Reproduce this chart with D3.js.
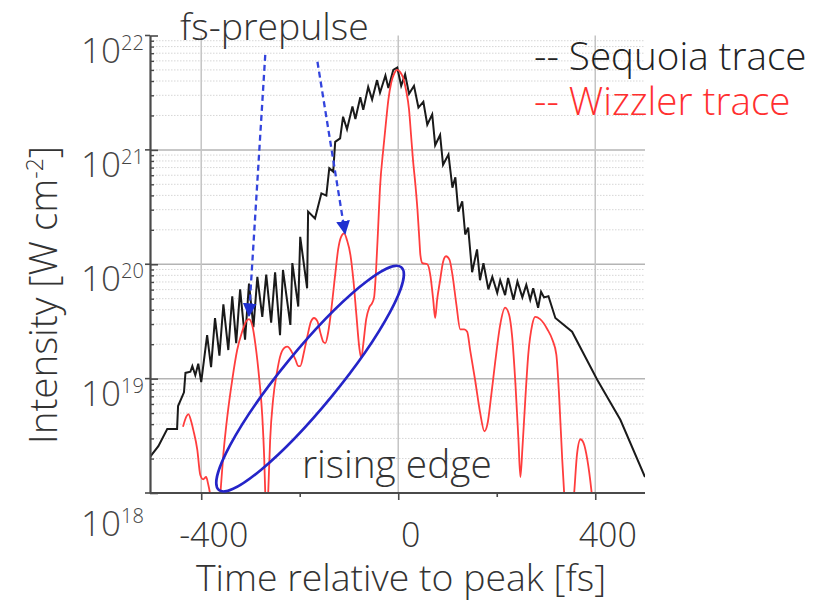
<!DOCTYPE html>
<html>
<head>
<meta charset="utf-8">
<script src="https://cdn.jsdelivr.net/npm/d3@7"></script>
<style>
  html, body { margin: 0; padding: 0; background: #fff; }
  svg { display: block; font-family: 'Open Sans', 'Noto Sans', sans-serif; font-weight: 300; }
</style>
</head>
<body>
<div class="viz"></div>
<script>
// Sequoia (black) trace: time [fs] and log10 of intensity [W cm^-2]
const sequoiaTime = [-505, -487, -469, -449, -447, -435, -432, -422, -418, -412, -406, -400,
  -388, -380, -372, -363, -355, -345, -337, -329, -321, -311, -303, -294, -286, -276, -268, -258,
  -250, -240, -234, -219, -215, -203, -199, -185, -183, -169, -156, -146, -140, -132, -128, -118,
  -112, -104, -93, -87, -77, -71, -61, -53, -43, -37, -26, -20, -10, -2, 6, 14, 22, 32, 41, 51,
  59, 69, 75, 85, 91, 102, 110, 116, 122, 130, 136, 142, 150, 160, 166, 173, 183, 191, 201, 207,
  217, 223, 234, 242, 252, 260, 268, 274, 284, 290, 296, 305, 319, 353, 404, 451, 501];
const sequoiaLogI = [18.31, 18.41, 18.56, 18.56, 18.76, 18.88, 19.05, 19.06, 19.11, 19.03, 19.13, 18.97,
  19.38, 19.10, 19.53, 19.20, 19.65, 19.25, 19.72, 19.31, 19.78, 19.34, 19.83, 19.45, 19.89, 19.54, 19.91, 19.49,
  19.93, 19.38, 19.95, 19.47, 20.01, 19.63, 20.24, 19.79, 20.46, 20.40, 20.62, 20.60, 20.84, 20.81, 21.07, 21.10,
  21.29, 21.18, 21.38, 21.27, 21.46, 21.35, 21.55, 21.44, 21.61, 21.50, 21.65, 21.54, 21.70, 21.72, 21.56, 21.66, 21.49, 21.56, 21.37, 21.42,
  21.22, 21.31, 21.04, 21.13, 20.87, 20.96, 20.67, 20.76, 20.46, 20.55, 20.26, 20.32, 19.93, 20.13, 19.86, 20.01, 19.78, 19.89, 19.75, 19.86,
  19.73, 19.88, 19.69, 19.85, 19.71, 19.82, 19.69, 19.79, 19.62, 19.76, 19.71, 19.72, 19.53, 19.41, 18.99, 18.64, 18.14];

// Wizzler (red) trace
const wizzlerTime = [-437, -430, -426, -420, -416, -408, -402, -396, -390, -386, -382, -372,
  -361, -355, -347, -337, -327, -317, -309, -303, -296, -290, -282, -276, -272, -270, -268, -264,
  -260, -254, -246, -240, -231, -225, -217, -209, -203, -199, -191, -185, -177, -171, -164, -158,
  -152, -148, -142, -136, -128, -122, -116, -110, -104, -97, -91, -85, -79, -75, -71, -65, -59,
  -53, -49, -45, -41, -37, -30, -24, -20, -14, -8, -2, 4, 10, 16, 22, 26, 30, 35, 39, 43, 45,
  49, 59, 65, 71, 75, 79, 85, 91, 97, 104, 110, 118, 126, 134, 140, 146, 156, 166, 175, 181,
  189, 197, 207, 217, 225, 231, 238, 244, 248, 252, 258, 264, 272, 278, 288, 303, 313, 321,
  327, 333, 337, 345, 357, 363, 370, 376, 384, 392, 396];
const wizzlerLogI = [18.58, 18.67, 18.69, 18.62, 18.55, 18.38, 18.16, 18.12, 18.14, 18.08, 17.99, 17.42,
  18.00, 18.34, 18.67, 18.99, 19.25, 19.41, 19.50, 19.52, 19.46, 19.30, 18.99, 18.67, 18.29, 18.00, 17.59, 18.00,
  18.47, 18.82, 19.06, 19.19, 19.27, 19.28, 19.24, 19.17, 19.11, 19.11, 19.24, 19.36, 19.50, 19.53, 19.50, 19.40,
  19.32, 19.31, 19.41, 19.60, 19.91, 20.13, 20.24, 20.27, 20.21, 20.08, 19.86, 19.56, 19.27, 19.18, 19.30, 19.52, 19.62,
  19.66, 19.71, 19.95, 20.30, 20.67, 21.02, 21.28, 21.44, 21.59, 21.67, 21.70, 21.68, 21.63, 21.52, 21.35, 21.13, 20.91, 20.69, 20.48, 20.21, 20.08,
  20.01, 20.00, 19.91, 19.69, 19.53, 19.69, 19.86, 20.02, 20.07, 20.04, 19.91, 19.65, 19.43, 19.43, 19.41, 19.25, 18.99, 18.71, 18.54, 18.60,
  18.86, 19.15, 19.47, 19.62, 19.56, 19.38, 18.95, 18.47, 18.14, 18.38, 18.82, 19.21, 19.47, 19.54, 19.52, 19.43, 19.34, 19.21,
  18.82, 18.29, 17.99, 17.59, 17.99, 18.34, 18.47, 18.44, 18.29, 18.03, 17.86];

const xTicks = [-400, 0, 400];
const xMinorTicks = [-200, 200];
const yDecades = [18, 19, 20, 21, 22];
const legendLabels = ['-- Sequoia trace', '-- Wizzler trace'];
const legendColors = ['#222', '#ff2f2f'];

// prepulse arrows: tail and head in [time, log10 intensity]
const arrowTails = [[-270, 21.83], [-164, 21.77]];
const arrowHeads = [[-303, 19.55], [-108, 20.27]];

const width = 828;
const height = 604;
const plot = { left: 150, right: 645, top: 35.5, bottom: 493 };

const svg = d3.select('.viz')
  .append('svg')
  .attr('width', width)
  .attr('height', height);

const x = d3.scaleLinear().domain([-505, 500]).range([149.5, 644.5]);
const y = d3.scaleLog().domain([1e18, 1e22]).range([plot.bottom, plot.top]);

// grid: faint dotted minor lines, then the decades and the main time lines
const minorValues = [];
yDecades.slice(0, -1).forEach(e => {
  for (let m = 2; m <= 9; m++) minorValues.push(m * 10 ** e);
});

svg.append('g')
  .selectAll('line')
  .data(minorValues)
  .join('line')
  .attr('x1', plot.left)
  .attr('x2', plot.right)
  .attr('y1', d => y(d))
  .attr('y2', d => y(d))
  .attr('stroke', '#d6d6d6')
  .attr('stroke-width', 1)
  .attr('stroke-dasharray', '1.5,1.5');

svg.append('g')
  .selectAll('line')
  .data(yDecades.slice(1, -1))
  .join('line')
  .attr('x1', plot.left)
  .attr('x2', plot.right)
  .attr('y1', d => y(10 ** d))
  .attr('y2', d => y(10 ** d))
  .attr('stroke', '#b4b4b4')
  .attr('stroke-width', 1.5);

svg.append('g')
  .selectAll('line')
  .data(xTicks)
  .join('line')
  .attr('x1', d => x(d))
  .attr('x2', d => x(d))
  .attr('y1', plot.top)
  .attr('y2', plot.bottom)
  .attr('stroke', '#c4c4c4')
  .attr('stroke-width', 1.5);

// traces, clipped to the plot box
svg.append('defs')
  .append('clipPath')
  .attr('id', 'plot-clip')
  .append('rect')
  .attr('x', plot.left)
  .attr('y', plot.top - 5)
  .attr('width', plot.right - plot.left)
  .attr('height', plot.bottom - plot.top + 5);

const line = d3.line()
  .x(d => x(d[0]))
  .y(d => y(10 ** d[1]));

const traces = svg.append('g').attr('clip-path', 'url(#plot-clip)');

traces.append('path')
  .attr('d', line(d3.zip(sequoiaTime, sequoiaLogI)))
  .attr('fill', 'none')
  .attr('stroke', '#1a1a1a')
  .attr('stroke-width', 2);

traces.append('path')
  .attr('d', line.curve(d3.curveMonotoneX)(d3.zip(wizzlerTime, wizzlerLogI)))
  .attr('fill', 'none')
  .attr('stroke', '#ff3d3d')
  .attr('stroke-width', 1.8);

// axes
const xAxis = svg.append('g')
  .attr('transform', `translate(0 ${plot.bottom})`)
  .call(d3.axisBottom(x).tickValues(xTicks).tickSize(7).tickSizeOuter(0).tickFormat(d => String(d)));

svg.append('g')
  .attr('transform', `translate(0 ${plot.bottom})`)
  .call(d3.axisBottom(x).tickValues(xMinorTicks).tickSize(4).tickSizeOuter(0).tickFormat(''))
  .select('.domain').remove();

xAxis.select('.domain')
  .attr('d', `M${plot.left},0H${plot.right}`)
  .attr('stroke', '#4a4a4a')
  .attr('stroke-width', 2.2);

svg.selectAll('.tick line').attr('stroke', '#4a4a4a').attr('stroke-width', 1.6);

xAxis.selectAll('.tick text')
  .attr('dx', 12)
  .attr('dy', 0)
  .attr('y', 54)
  .attr('fill', '#333')
  .attr('font-size', 34)
  .attr('font-weight', 300)
  .attr('font-family', "'Open Sans', sans-serif");

const yMinor = svg.append('g')
  .attr('transform', `translate(${plot.left} 0)`)
  .call(d3.axisRight(y).tickValues(minorValues).tickSize(4).tickSizeOuter(0).tickFormat(''));
yMinor.selectAll('.tick line').attr('stroke', '#4a4a4a').attr('stroke-width', 1.4);

const yAxis = svg.append('g')
  .attr('transform', `translate(${plot.left} 0)`)
  .call(d3.axisRight(y).tickValues(yDecades.map(e => 10 ** e)).tickSize(8).tickSizeOuter(0).tickFormat(''));
yAxis.selectAll('.tick line').attr('stroke', '#4a4a4a').attr('stroke-width', 1.6);
yAxis.select('.domain').attr('stroke', '#4a4a4a').attr('stroke-width', 2.2);
yMinor.select('.domain').remove();

// small outward stubs at the decades
svg.append('g')
  .selectAll('line')
  .data(yDecades)
  .join('line')
  .attr('x1', plot.left - 5)
  .attr('x2', plot.left)
  .attr('y1', d => y(10 ** d))
  .attr('y2', d => y(10 ** d))
  .attr('stroke', '#4a4a4a')
  .attr('stroke-width', 1.6);

// decade labels 10^n
const yLabels = svg.append('g')
  .selectAll('text')
  .data(yDecades)
  .join('text')
  .attr('x', 81)
  .attr('y', d => y(10 ** d) + (d === 18 ? 43 : 27))
  .attr('fill', '#444')
  .attr('font-size', 35);
yLabels.append('tspan').text('10');
yLabels.append('tspan')
  .attr('dy', -13)
  .attr('font-size', 20)
  .text(d => d);

// axis titles
svg.append('text')
  .attr('x', 401)
  .attr('y', 591)
  .attr('text-anchor', 'middle')
  .attr('fill', '#333')
  .attr('font-size', 37.4)
  .text('Time relative to peak [fs]');

const yTitle = svg.append('text')
  .attr('transform', 'translate(57 295) rotate(-90)')
  .attr('text-anchor', 'middle')
  .attr('fill', '#333')
  .attr('font-size', 38.5);
yTitle.append('tspan').text('Intensity [W cm');
yTitle.append('tspan').attr('dy', -14).attr('font-size', 23).text('-2');
yTitle.append('tspan').attr('dy', 14).text(']');

// legend
svg.append('g')
  .selectAll('text')
  .data(legendLabels)
  .join('text')
  .attr('x', 534)
  .attr('y', (d, i) => 70 + i * 45)
  .attr('fill', (d, i) => legendColors[i])
  .attr('font-size', 38.6)
  .text(d => d);

// annotations
svg.append('text')
  .attr('x', 180)
  .attr('y', 40)
  .attr('fill', '#333')
  .attr('font-size', 37.4)
  .text('fs-prepulse');

svg.append('text')
  .attr('x', 302)
  .attr('y', 478)
  .attr('fill', '#333')
  .attr('font-size', 38.8)
  .text('rising edge');

svg.select('defs')
  .append('marker')
  .attr('id', 'arrow-head')
  .attr('viewBox', '0 0 10 10')
  .attr('refX', 9)
  .attr('refY', 5)
  .attr('markerWidth', 6)
  .attr('markerHeight', 6)
  .attr('markerUnits', 'strokeWidth')
  .attr('orient', 'auto')
  .append('path')
  .attr('d', 'M0,0L10,5L0,10Z')
  .attr('fill', '#1f2fd0');

svg.append('g')
  .selectAll('line')
  .data(d3.zip(arrowTails, arrowHeads))
  .join('line')
  .attr('x1', d => x(d[0][0]))
  .attr('y1', d => y(10 ** d[0][1]))
  .attr('x2', d => x(d[1][0]))
  .attr('y2', d => y(10 ** d[1][1]))
  .attr('stroke', '#3344dd')
  .attr('stroke-width', 2.3)
  .attr('stroke-dasharray', '6,4')
  .attr('marker-end', 'url(#arrow-head)');

// ellipse round the rising edge
svg.append('ellipse')
  .attr('cx', x(-179))
  .attr('cy', y(10 ** 19.0))
  .attr('rx', 144)
  .attr('ry', 28)
  .attr('transform', `rotate(-50.7 ${x(-179)} ${y(10 ** 19.0)})`)
  .attr('fill', 'none')
  .attr('stroke', '#2424c8')
  .attr('stroke-width', 2.6);
</script>
</body>
</html>
